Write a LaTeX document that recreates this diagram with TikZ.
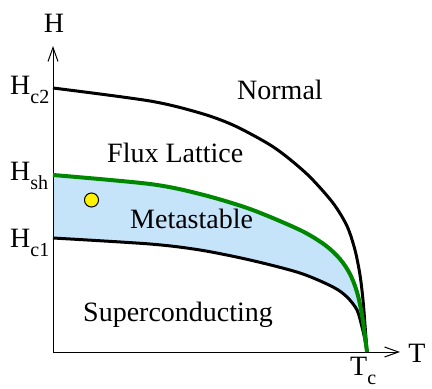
\documentclass[tikz,border=0pt]{standalone}
\usepackage{fontspec}
\setmainfont{Liberation Serif}
\newfontfamily\lserif{Liberation Serif}
\usetikzlibrary{arrows.meta}
\definecolor{metablue}{RGB}{197,228,250}
\definecolor{shgreen}{RGB}{0,135,0}
\tikzset{
  lbl/.style={inner sep=0pt, font=\lserif\fontsize{28}{30}\selectfont},
  axis/.style={line width=1pt, -{Straight Barb[length=14pt,width=10pt,line width=1pt]}},
  crit/.style={line width=3pt, black},
  shline/.style={line width=4pt, shgreen},
}
\newcommand{\sbx}[1]{\raisebox{-9pt}{\lserif\fontsize{20}{22}\selectfont #1}}
\begin{document}
\begin{tikzpicture}[x=1pt,y=-1pt]
\useasboundingbox (0,0) rectangle (432,389);
\coordinate (O) at (53,352);
\coordinate (Tc) at (367,352);
\coordinate (Ytip) at (53,46);
\coordinate (Xtip) at (400,352);
% metastable region
\fill[metablue] plot[smooth] coordinates {(53,175) (150,184) (200,194) (250,209) (300,230) (325,245) (340,259) (350,274) (357,292) (362,315) (367,352)}
  -- plot[smooth] coordinates {(367,352) (365,340) (362,327) (357,310) (347,297) (333,287) (300,273) (250,260) (200,250) (150,244) (53,238)} -- cycle;
% axes
\draw[axis] (O) -- (Ytip);
\draw[axis] (O) -- (Xtip);
% curves
\draw[crit] plot[smooth] coordinates {(53,88) (150,101) (200,113) (233,125) (267,143) (287,157) (310,177) (333,203) (347,226) (355,250) (360,275) (363,300) (365,325) (367,352)};
\draw[crit] plot[smooth] coordinates {(53,238) (150,244) (200,250) (250,260) (300,273) (333,287) (347,297) (357,310) (362,327) (365,340) (367,352)};
\draw[shline] plot[smooth] coordinates {(53,175) (150,184) (200,194) (250,209) (300,230) (325,245) (340,259) (350,274) (357,292) (362,315) (367,352)};
% dot
\node[circle, draw=black, line width=1pt, fill=yellow, minimum size=14pt, inner sep=0pt] (dot) at (91.5,200) {};
% labels
\node[lbl, anchor=base] (H) at (54,32) {H};
\node[lbl, anchor=base] (T) at (417,362) {T};
\node[lbl, anchor=base west] (hc2) at (10,94) {H\sbx{c2}};
\node[lbl, anchor=base west] (hsh) at (10,180) {H\sbx{sh}};
\node[lbl, anchor=base west] (hc1) at (10,247) {H\sbx{c1}};
\node[lbl, anchor=base west] (tc) at (350,375) {T\sbx{c}};
\node[lbl, anchor=base west] (normal) at (237,99) {Normal};
\node[lbl, anchor=base west] (flux) at (107,162) {Flux Lattice};
\node[lbl, anchor=base west] (meta) at (130,228) {Metastable};
\node[lbl, anchor=base west] (super) at (83,321) {Superconducting};
\end{tikzpicture}
\end{document}
